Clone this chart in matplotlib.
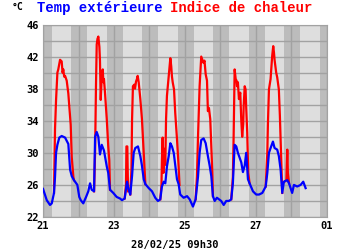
import numpy as np
import matplotlib
matplotlib.use("Agg")
import matplotlib.pyplot as plt

# hours since 21/02/25 00h00
temp_hours = [0, 2.5, 4.7, 5.9, 7.4, 8.1, 8.8, 9.7, 11.0, 12.6, 14.9, 17.1, 18.3, 19.4, 20.9, 23.2,
              24.5, 25.5, 27.2, 29.1, 30.6, 31.8, 32.9, 34.5, 35.2, 36.3, 37.4, 38.5, 39.7, 41.2, 43.1,
              44.1, 45.3, 47.5, 49.8, 52.1, 53.4, 55.2, 56.8, 57.9, 59.0, 60.2, 61.3, 62.4, 64.2, 65.8,
              66.9, 68.1, 69.2, 71.5, 73.7, 75.9, 77.7, 79.3, 80.4, 81.6, 82.7, 83.8, 85.0, 86.1, 87.2,
              88.4, 90.6, 91.7, 92.8, 95.1, 97.4, 99.2, 101.4, 103.2, 104.8, 105.9, 107.0, 108.6, 110.0,
              111.5, 112.7, 113.8, 114.9, 116.1, 117.6, 120.5, 122.2, 123.9, 125.7, 127.3, 128.4, 129.6,
              130.7, 131.8, 134.1, 135.2, 136.4, 137.4, 138.6, 139.7, 142.0, 144.2, 146.1, 148.3, 150.6,
              151.7, 152.8, 154.3, 155.5, 156.6, 158.4, 159.5, 160.7, 161.8, 162.9, 165.2, 166.4, 168.5,
              169.7, 171.9, 174.2, 176.0, 177.6]
temp = [25.5, 24.1, 23.5, 23.7, 25.0, 27.0, 30.0, 31.0, 31.9, 32.1, 31.9, 31.1, 27.9, 27.1, 26.6, 26.0,
        24.5, 24.1, 23.7, 24.5, 25.2, 26.2, 25.4, 25.2, 32.0, 32.6, 32.0, 29.8, 31.0, 30.3, 28.3,
        27.5, 25.4, 25.0, 24.5, 24.3, 24.1, 24.3, 26.4, 25.4, 24.8, 27.1, 30.0, 30.6, 30.8, 29.6,
        28.4, 26.7, 26.1, 25.6, 25.2, 24.4, 24.0, 24.2, 25.8, 26.4, 26.2, 28.3, 29.6, 31.2, 30.8,
        30.0, 26.7, 26.1, 24.8, 24.4, 24.6, 24.2, 23.3, 24.2, 27.0, 30.0, 31.6, 31.8, 31.2,
        29.6, 28.4, 27.1, 24.6, 24.0, 24.4, 24.0, 23.5, 24.0, 24.0, 24.2, 26.2, 31.0,
        30.8, 30.0, 28.8, 27.6, 28.4, 30.0, 26.7, 26.2, 25.2, 24.8, 24.8, 25.0, 25.8,
        27.5, 30.0, 30.8, 31.4, 30.6, 30.4, 29.6, 27.9, 25.0, 26.4, 26.6, 26.2, 25.0,
        26.0, 25.8, 26.0, 26.4, 25.6]

# heat index only where it departs from the temperature (nan = same as temp)
nan = float("nan")
heat_hours = [7.4, 8.1, 8.8, 9.7, 10.3, 11.5, 12.6, 13.2, 13.7, 14.3, 14.9, 16.0, 17.1, 18.3, 18.7, 19.4, 20.5, 20.9, 21.0,
              34.5, 35.2, 35.8, 36.3, 36.8, 37.4, 38.1, 38.5, 39.0, 39.7, 40.4, 40.8, 41.2, 41.9, 43.1, 44.1, 44.8, 45.3, 45.4,
              55.2, 56.1, 56.4, 57.0, 57.5, 57.6,
              59.0, 59.8, 60.2, 60.8, 61.7, 62.2, 62.9, 63.5, 64.0, 64.7, 65.8, 66.9, 68.1, 69.2, 69.3,
              79.3, 80.1, 80.4, 80.9, 81.5, 82.1, 82.7, 83.2, 83.8, 85.0, 85.5, 86.1, 86.7, 87.2, 87.7, 88.6, 89.4, 90.6, 91.7, 92.3, 92.4,
              103.2, 104.1, 104.8, 105.9, 107.0, 107.8, 108.6, 109.2, 110.0, 110.9, 111.5, 112.2, 113.1, 113.8, 114.5, 114.9, 115.0,
              127.3, 128.4, 128.9, 129.6, 130.3, 130.9, 131.2, 131.8, 132.5, 133.4, 134.1, 134.7, 135.4, 135.7, 136.4, 137.0, 137.4, 138.1, 138.8, 139.7, 139.8,
              150.6, 151.7, 152.1, 152.8, 153.9, 155.0, 155.7, 156.2, 156.6, 157.7, 158.4, 159.5, 160.2, 161.1, 161.8, 161.9,
              163.3, 164.6, 165.2, 165.6, 166.4]
heat = [25.0, 33.0, 36.6, 40.0, 40.4, 41.6, 41.4, 40.0, 40.4, 39.5, 39.6, 39.0, 37.4, 34.6, 33.5, 29.5, 27.0, 26.6, nan,
        25.2, 30.0, 38.3, 43.5, 44.2, 44.5, 43.2, 41.5, 36.6, 39.5, 40.4, 38.8, 39.2, 37.5, 34.2, 30.8, 29.1, 25.4, nan,
        24.3, 26.0, 30.8, 30.8, 25.2, nan,
        24.8, 28.0, 34.1, 38.3, 38.5, 38.0, 38.9, 39.2, 39.6, 38.8, 36.7, 34.2, 30.0, 26.1, nan,
        24.2, 26.0, 29.0, 31.9, 27.5, 30.5, 28.5, 34.2, 37.1, 39.6, 40.5, 41.8, 40.8, 39.5, 38.8, 37.9, 35.0, 31.7, 28.3, 26.0, nan,
        24.2, 27.0, 31.9, 38.3, 42.0, 41.6, 41.2, 41.5, 39.8, 39.0, 35.2, 35.6, 34.2, 30.8, 27.5, 24.6, nan,
        24.2, 27.0, 31.9, 40.4, 39.2, 39.0, 38.3, 38.8, 36.7, 37.5, 34.0, 32.0, 33.6, 35.8, 38.3, 37.9, 35.7, 32.5, 27.5, 26.2, nan,
        25.8, 30.0, 33.6, 37.9, 39.2, 42.1, 43.3, 42.5, 41.6, 40.0, 39.4, 37.9, 34.6, 29.2, 25.0, nan,
        26.4, 26.6, 30.4, 27.5, 26.2]

day_ticks = [21, 23, 25, 27, 29]
day_labels = ["21", "23", "25", "27", "01"]
y_ticks = [22, 26, 30, 34, 38, 42, 46]

mono = ["DejaVu Sans Mono"]
fig = plt.figure(figsize=(3.5, 2.5), dpi=100)
ax = fig.add_axes([0.123, 0.132, 0.811, 0.770])
ax.set_facecolor("#bcbcbc")

# daylight bands
for d in range(21, 29):
    ax.axvspan(d + 6 / 24, d + 19 / 24, color="#dedede", lw=0, zorder=0)

ax.set_xlim(21, 29)
ax.set_ylim(22, 46)
ax.set_xticks(range(21, 30), minor=False)
ax.set_yticks(np.arange(22, 47, 2))
ax.grid(True, color="#a2a2a2", lw=1, zorder=1)
ax.set_axisbelow(True)

ax.set_xticks(day_ticks)
ax.set_xticks(range(21, 30), minor=True)
ax.grid(True, which="minor", axis="x", color="#a2a2a2", lw=1)
ax.set_xticklabels(day_labels)
ax.set_yticks(np.arange(22, 47, 2), minor=True)
ax.set_yticks(y_ticks)
ax.grid(True, which="minor", axis="y", color="#a2a2a2", lw=1)
ax.tick_params(length=0, which="both", labelsize=7.5, pad=3)
for lab in ax.get_xticklabels() + ax.get_yticklabels():
    lab.set_family(mono)
    lab.set_fontweight("bold")
for s in ax.spines.values():
    s.set_color("#a2a2a2")

th = 21 + np.array(temp_hours) / 24
hh = 21 + np.array(heat_hours) / 24
ax.plot(hh, np.array(heat, dtype=float), color="#ff0000", lw=1.6, zorder=3)
ax.plot(th, temp, color="#0000ff", lw=1.6, zorder=4)

fig.text(12 / 350, 1 - 7 / 250, "°C", family=mono, fontweight="bold", fontsize=7, va="center")
fig.text(37 / 350, 1 - 8 / 250, "Temp extérieure", family=["Liberation Mono"], fontweight="bold",
         fontsize=10, color="#0000ff", va="center")
fig.text(170 / 350, 1 - 8 / 250, "Indice de chaleur", family=["Liberation Mono"], fontweight="bold",
         fontsize=10, color="#ff0000", va="center")
fig.text(175 / 350, 5 / 250, "28/02/25 09h30", family=mono, fontweight="bold", fontsize=7.5,
         ha="center", va="center")

fig.savefig("out.png", dpi=100)
